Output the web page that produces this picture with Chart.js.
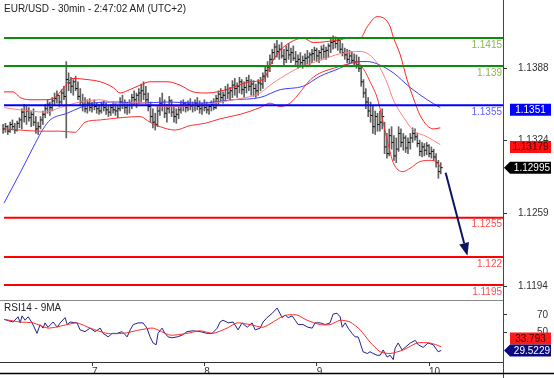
<!DOCTYPE html>
<html>
<head>
<meta charset="utf-8">
<script src="https://cdn.jsdelivr.net/npm/chart.js@4.4.1/dist/chart.umd.min.js"></script>
<style>
  html, body { margin: 0; padding: 0; background: #fff; }
  #wrap { position: relative; width: 554px; height: 378px; overflow: hidden; font-family: "Liberation Sans", Arial, sans-serif; }
  #main { position: absolute; left: 0; top: 0; }
  #rsi { position: absolute; left: 0; top: 300px; }
  .lbl { position: absolute; font-size: 10px; color: #222; white-space: nowrap; }
</style>
</head>
<body>
<div id="wrap">
  <canvas id="main" width="554" height="300"></canvas>
  <canvas id="rsi" width="554" height="78"></canvas>
  <div class="lbl" style="left:4px;top:3px">EUR/USD - 30min - 2:47:02 AM (UTC+2)</div>
  <div class="lbl" style="left:4px;top:302px">RSI14 - 9MA</div>
</div>
<script>
// 30 min bars, index 0 = first bar on screen
const barHigh = [
  1.1338, 1.1339, 1.1337, 1.1340, 1.1342, 1.1339, 1.1341, 1.1344, 1.1352, 1.1356,
  1.1354, 1.1353, 1.1350, 1.1352, 1.1345, 1.1340, 1.1345, 1.1350, 1.1356, 1.1360,
  1.1358, 1.1362, 1.1366, 1.1368, 1.1364, 1.1369, 1.1372, 1.1394, 1.1384, 1.1380,
  1.1378, 1.1381, 1.1376, 1.1370, 1.1365, 1.1362, 1.1360, 1.1361, 1.1358, 1.1360,
  1.1357, 1.1356, 1.1358, 1.1359, 1.1357, 1.1355, 1.1356, 1.1358, 1.1357, 1.1355,
  1.1362, 1.1364, 1.1360, 1.1358, 1.1360, 1.1365, 1.1368, 1.1366, 1.1370, 1.1374,
  1.1376, 1.1372, 1.1366, 1.1358, 1.1352, 1.1348, 1.1355, 1.1362, 1.1366, 1.1360,
  1.1356, 1.1363, 1.1360, 1.1354, 1.1352, 1.1355, 1.1359, 1.1360, 1.1358, 1.1359,
  1.1361, 1.1358, 1.1360, 1.1362, 1.1359, 1.1357, 1.1360, 1.1358, 1.1356, 1.1359,
  1.1361, 1.1364, 1.1368, 1.1370, 1.1367, 1.1372, 1.1374, 1.1371, 1.1377, 1.1379,
  1.1375, 1.1380, 1.1378, 1.1376, 1.1380, 1.1382, 1.1378, 1.1377, 1.1374, 1.1378,
  1.1380, 1.1384, 1.1390, 1.1394, 1.1400, 1.1405, 1.1410, 1.1413, 1.1409, 1.1411,
  1.1405, 1.1408, 1.1410, 1.1406, 1.1408, 1.1403, 1.1400, 1.1402, 1.1399, 1.1401,
  1.1404, 1.1402, 1.1405, 1.1407, 1.1406, 1.1404, 1.1408, 1.1409, 1.1407, 1.1410,
  1.1414, 1.1417, 1.1416, 1.1415, 1.1413, 1.1410, 1.1406, 1.1405, 1.1404, 1.1403,
  1.1401, 1.1400, 1.1398, 1.1390, 1.1378, 1.1370, 1.1362, 1.1358, 1.1355, 1.1350,
  1.1348, 1.1350, 1.1352, 1.1340, 1.1330, 1.1334, 1.1336, 1.1328, 1.1326, 1.1336,
  1.1334, 1.1330, 1.1328, 1.1326, 1.1330, 1.1335, 1.1334, 1.1330, 1.1324, 1.1322,
  1.1321, 1.1322, 1.1320, 1.1318, 1.1316, 1.1312, 1.1306, 1.1304
];
const barLow = [
  1.1330, 1.1331, 1.1329, 1.1331, 1.1333, 1.1330, 1.1332, 1.1335, 1.1334, 1.1340,
  1.1338, 1.1341, 1.1336, 1.1337, 1.1330, 1.1329, 1.1334, 1.1338, 1.1344, 1.1348,
  1.1346, 1.1350, 1.1355, 1.1357, 1.1354, 1.1356, 1.1360, 1.1326, 1.1368, 1.1366,
  1.1364, 1.1368, 1.1360, 1.1355, 1.1350, 1.1349, 1.1348, 1.1350, 1.1349, 1.1351,
  1.1348, 1.1347, 1.1348, 1.1350, 1.1347, 1.1345, 1.1346, 1.1348, 1.1346, 1.1344,
  1.1350, 1.1352, 1.1348, 1.1347, 1.1348, 1.1352, 1.1355, 1.1353, 1.1357, 1.1358,
  1.1360, 1.1356, 1.1350, 1.1340, 1.1335, 1.1333, 1.1336, 1.1346, 1.1350, 1.1344,
  1.1340, 1.1348, 1.1345, 1.1340, 1.1339, 1.1343, 1.1348, 1.1350, 1.1349, 1.1350,
  1.1351, 1.1349, 1.1350, 1.1351, 1.1348, 1.1347, 1.1350, 1.1348, 1.1347, 1.1350,
  1.1351, 1.1352, 1.1356, 1.1358, 1.1357, 1.1359, 1.1361, 1.1360, 1.1362, 1.1364,
  1.1362, 1.1366, 1.1365, 1.1362, 1.1366, 1.1368, 1.1364, 1.1363, 1.1362, 1.1364,
  1.1368, 1.1370, 1.1376, 1.1380, 1.1385, 1.1392, 1.1396, 1.1398, 1.1396, 1.1397,
  1.1390, 1.1393, 1.1396, 1.1393, 1.1395, 1.1390, 1.1388, 1.1389, 1.1388, 1.1390,
  1.1392, 1.1391, 1.1393, 1.1395, 1.1394, 1.1393, 1.1396, 1.1397, 1.1396, 1.1398,
  1.1402, 1.1405, 1.1406, 1.1404, 1.1402, 1.1399, 1.1396, 1.1393, 1.1392, 1.1393,
  1.1390, 1.1388, 1.1385, 1.1372, 1.1362, 1.1352, 1.1345, 1.1340, 1.1330, 1.1329,
  1.1332, 1.1332, 1.1334, 1.1312, 1.1308, 1.1310, 1.1316, 1.1306, 1.1304, 1.1314,
  1.1318, 1.1315, 1.1313, 1.1312, 1.1316, 1.1322, 1.1324, 1.1318, 1.1310, 1.1309,
  1.1310, 1.1311, 1.1309, 1.1308, 1.1306, 1.1300, 1.1290, 1.1294
];
const barClose = [
  1.1334, 1.1336, 1.1332, 1.1338, 1.1336, 1.1333, 1.1339, 1.1342, 1.1349, 1.1345,
  1.1350, 1.1344, 1.1347, 1.1340, 1.1334, 1.1336, 1.1342, 1.1347, 1.1352, 1.1356,
  1.1353, 1.1359, 1.1361, 1.1364, 1.1358, 1.1366, 1.1363, 1.1378, 1.1375, 1.1372,
  1.1376, 1.1370, 1.1363, 1.1358, 1.1356, 1.1352, 1.1357, 1.1353, 1.1355, 1.1354,
  1.1352, 1.1350, 1.1356, 1.1353, 1.1351, 1.1349, 1.1353, 1.1351, 1.1350, 1.1352,
  1.1358, 1.1356, 1.1353, 1.1355, 1.1357, 1.1362, 1.1360, 1.1364, 1.1366, 1.1368,
  1.1365, 1.1360, 1.1354, 1.1345, 1.1340, 1.1338, 1.1350, 1.1357, 1.1354, 1.1348,
  1.1352, 1.1359, 1.1349, 1.1345, 1.1347, 1.1351, 1.1355, 1.1357, 1.1353, 1.1356,
  1.1354, 1.1355, 1.1357, 1.1354, 1.1352, 1.1355, 1.1353, 1.1351, 1.1354, 1.1356,
  1.1353, 1.1361, 1.1365, 1.1362, 1.1364, 1.1369, 1.1366, 1.1368, 1.1373, 1.1370,
  1.1372, 1.1376, 1.1369, 1.1371, 1.1377, 1.1372, 1.1374, 1.1370, 1.1368, 1.1375,
  1.1374, 1.1381, 1.1386, 1.1389, 1.1396, 1.1402, 1.1407, 1.1403, 1.1405, 1.1399,
  1.1396, 1.1404, 1.1400, 1.1402, 1.1397, 1.1394, 1.1396, 1.1393, 1.1395, 1.1397,
  1.1398, 1.1400, 1.1401, 1.1404, 1.1399, 1.1402, 1.1405, 1.1403, 1.1404, 1.1408,
  1.1411, 1.1412, 1.1410, 1.1413, 1.1405, 1.1402, 1.1400, 1.1396, 1.1399, 1.1395,
  1.1393, 1.1391, 1.1388, 1.1376, 1.1366, 1.1358, 1.1350, 1.1346, 1.1336, 1.1345,
  1.1338, 1.1340, 1.1345, 1.1318, 1.1312, 1.1328, 1.1322, 1.1310, 1.1316, 1.1330,
  1.1322, 1.1326, 1.1317, 1.1322, 1.1326, 1.1330, 1.1327, 1.1321, 1.1314, 1.1318,
  1.1315, 1.1319, 1.1312, 1.1314, 1.1309, 1.1304, 1.1296, 1.12995
];

// bollinger bands and moving average, read at points along the chart (x = bar index)
const upperX = [0.4, 4.3, 7.3, 11.5, 17.9, 22.2, 25.6, 29.9, 35.9, 41.5, 47.0, 50.0, 53.0, 58.5, 62.8, 70.1, 75.6, 81.2, 87.2, 91.5, 98.3, 105.6, 111.1, 115.0, 118.4, 122.6, 128.2, 132.5, 142.7, 148.3, 152.6, 155.6, 159.8, 162.4, 165.4, 166.7, 169.7, 172.6, 175.2, 178.2, 181.2, 183.8, 186.8];
const upperVal = [1.1367, 1.1367, 1.1362, 1.1360, 1.1360, 1.1362, 1.1370, 1.1379, 1.1378, 1.1376, 1.1371, 1.1366, 1.1368, 1.1373, 1.1376, 1.1376, 1.1373, 1.1367, 1.1366, 1.1367, 1.1371, 1.1376, 1.1378, 1.1394, 1.1404, 1.1411, 1.1415, 1.1411, 1.1413, 1.1415, 1.1415, 1.1425, 1.1434, 1.1433, 1.1425, 1.1416, 1.1400, 1.1378, 1.1362, 1.1346, 1.1337, 1.1334, 1.1335];
const lowerX = [0.4, 7.3, 15.8, 24.4, 30.8, 32.9, 35.0, 41.5, 50.0, 58.5, 62.8, 67.1, 73.5, 79.9, 86.3, 92.7, 101.3, 109.8, 114.1, 118.4, 122.6, 132.5, 142.7, 151.3, 154.7, 156.8, 159.8, 162.4, 164.5, 166.7, 170.9, 173.9, 178.2, 182.5, 185.5, 186.8];
const lowerVal = [1.1334, 1.1333, 1.1332, 1.1332, 1.1331, 1.1335, 1.1340, 1.1342, 1.1344, 1.1345, 1.1340, 1.1336, 1.1333, 1.1337, 1.1339, 1.1343, 1.1347, 1.1353, 1.1357, 1.1354, 1.1357, 1.1380, 1.1389, 1.1393, 1.1385, 1.1376, 1.1362, 1.1340, 1.1321, 1.1304, 1.1296, 1.1299, 1.1305, 1.1306, 1.1304, 1.1300];
const midX = [0.4, 7.3, 17.9, 24.4, 32.9, 41.5, 50.0, 58.5, 67.1, 75.6, 84.2, 92.7, 101.3, 109.8, 114.1, 118.4, 126.9, 135.5, 144.0, 152.6, 159.0, 164.1, 166.7, 170.9, 175.2, 181.2, 186.8];
const midVal = [1.1353, 1.1351, 1.1349, 1.1353, 1.1358, 1.1360, 1.1356, 1.1358, 1.1354, 1.1354, 1.1355, 1.1358, 1.1361, 1.1366, 1.1373, 1.1379, 1.1389, 1.1395, 1.1401, 1.1403, 1.1395, 1.1375, 1.1360, 1.1345, 1.1333, 1.1327, 1.1320];
const smaX = [0.4, 7.3, 13.7, 17.1, 20.1, 27.4, 32.9, 38.5, 48.7, 58.5, 70.1, 84.2, 98.3, 109.8, 118.4, 128.2, 135.5, 142.7, 151.3, 155.6, 159.8, 166.7, 173.9, 181.2, 186.8];
const smaVal = [1.1268, 1.1295, 1.1321, 1.1334, 1.1342, 1.1348, 1.1353, 1.1357, 1.1358, 1.1357, 1.1358, 1.1357, 1.1360, 1.1362, 1.1369, 1.1372, 1.1381, 1.1387, 1.1394, 1.1394, 1.1392, 1.1384, 1.1371, 1.1360, 1.1353];

// RSI(14) and its 9 period average
const rsiX = [0.4, 4.3, 6.4, 7.3, 8.1, 9.4, 10.7, 12.4, 14.5, 15.8, 17.1, 17.9, 19.2, 21.4, 23.1, 24.4, 26.5, 27.4, 28.6, 31.6, 32.9, 35.0, 37.2, 39.3, 41.5, 42.7, 44.9, 46.6, 48.7, 50.9, 53.0, 54.3, 55.6, 57.7, 59.8, 61.5, 62.8, 64.1, 65.4, 66.2, 67.9, 69.2, 70.5, 72.2, 74.4, 76.5, 78.6, 81.2, 84.2, 87.2, 89.3, 91.5, 92.7, 94.0, 96.2, 98.3, 100.4, 102.1, 104.3, 106.4, 107.7, 109.8, 111.1, 112.8, 115.0, 117.1, 119.2, 120.5, 121.8, 123.5, 124.8, 126.1, 128.2, 130.3, 132.1, 133.3, 135.5, 137.6, 139.7, 141.0, 142.7, 144.0, 144.9, 146.2, 147.4, 149.1, 150.4, 151.7, 152.6, 153.8, 155.6, 156.8, 158.1, 159.8, 161.1, 162.4, 164.1, 165.4, 166.7, 167.5, 168.8, 170.5, 171.8, 174.0, 176.1, 177.4, 179.5, 181.6, 183.8, 185.9, 187.2];
const rsiVal = [65, 62, 68, 61, 69, 64, 68, 61, 49, 59, 55, 61, 56, 62, 56, 61, 67, 59, 62, 61, 53, 51, 55, 51, 55, 49, 45, 49, 49, 51, 45, 53, 59, 61, 61, 55, 45, 38, 36, 49, 55, 49, 45, 44, 45, 47, 51, 52, 51, 49, 49, 55, 62, 64, 61, 62, 53, 61, 56, 61, 53, 55, 62, 67, 72, 78, 67, 70, 67, 69, 64, 59, 59, 56, 55, 61, 61, 59, 61, 71, 72, 68, 56, 61, 55, 49, 45, 45, 38, 28, 26, 28, 26, 24, 24, 30, 22, 24, 19, 32, 38, 30, 33, 38, 41, 36, 33, 38, 36, 28, 29.52];
const rsiMaX = [0.4, 7.3, 12.8, 19.2, 27.4, 31.6, 37.2, 44.4, 51.3, 58.5, 64.1, 71.4, 78.6, 84.2, 89.7, 95.7, 100.0, 105.6, 111.1, 115.4, 118.4, 121.4, 125.6, 129.9, 135.5, 139.7, 144.0, 148.3, 152.6, 156.8, 161.1, 165.4, 170.9, 176.9, 182.5, 187.2];
const rsiMaVal = [65, 62, 61, 55, 59, 61, 55, 49, 49, 53, 55, 47, 49, 52, 49, 55, 61, 59, 56, 62, 67, 70, 70, 64, 59, 59, 64, 62, 53, 39, 28, 26, 30, 38, 38, 33.8];

const levelValues = [1.1415, 1.139, 1.1355, 1.1255, 1.122, 1.1195];
const levelLabels = ['1.1415', '1.139', '1.1355', '1.1255', '1.122', '1.1195'];
const priceTicks = [1.1388, 1.1324, 1.1259, 1.1194];
const rsiTicks = [70, 50];
const dayTicks = [38, 86, 134, 182];
const dayLabels = ['7', '8', '9', '10'];
const priceBadgeVals = [1.1351, 1.13179, 1.12995];
const priceBadgeLabels = ['1.1351', '1.13179', '1.12995'];
const rsiBadgeVals = [33.793, 29.5229];
const rsiBadgeLabels = ['33.793', '29.5229'];
const arrowFrom = [189.1, 1.1295];
const arrowTo = [198.4, 1.1221];

const X_MIN = -1.32, X_MAX = 213.6;
const P_MIN = 1.118163, P_MAX = 1.144885;
const R_MIN = 16.29, R_MAX = 87.14;
const FONT = '10px "Liberation Sans", Arial, sans-serif';
const levelColors = ['#0e8c0e', '#0e8c0e', '#0000ff', '#ff0000', '#ff0000', '#ff0000'];
const levelTextColors = ['#8cb84a', '#8cb84a', '#6262ff', '#ff4d4d', '#ff4d4d', '#ff4d4d'];

Chart.defaults.font.family = '"Liberation Sans", Arial, sans-serif';
Chart.defaults.font.size = 10;
Chart.defaults.color = '#333';

const pts = (xs, ys) => xs.map((x, i) => ({ x: x, y: ys[i] }));

// edge ticks without a label keep the axis from padding the plot area
const edgeTicks = (min, max, list) => [min, ...list, max].map(v => ({ value: v }));
const tickColor = c => (c.tick && c.tick.label == null ? 'rgba(0,0,0,0)' : '#333');

function drawBadge(ctx, yc, text, bg, fg, pointer) {
  const h = 12, x0 = 510, x1 = 551;
  ctx.fillStyle = bg;
  ctx.beginPath();
  if (pointer) {
    ctx.moveTo(504, yc);
    ctx.lineTo(x0, yc - h / 2);
  } else {
    ctx.moveTo(x0, yc - h / 2);
  }
  ctx.lineTo(x1, yc - h / 2);
  ctx.lineTo(x1, yc + h / 2);
  ctx.lineTo(x0, yc + h / 2);
  ctx.closePath();
  ctx.fill();
  ctx.fillStyle = fg;
  ctx.font = FONT;
  ctx.textBaseline = 'middle';
  if (pointer) {
    ctx.textAlign = 'right';
    ctx.fillText(text, x1 - 1, yc + 0.5);
  } else {
    ctx.textAlign = 'center';
    ctx.fillText(text, (x0 + x1) / 2, yc + 0.5);
  }
}

const mainOverlay = {
  id: 'mainOverlay',
  afterDatasetsDraw(chart) {
    const { ctx, chartArea, scales: { x, y } } = chart;
    ctx.save();
    ctx.font = FONT;
    ctx.textAlign = 'right';
    ctx.textBaseline = 'middle';
    levelValues.forEach((v, k) => {
      ctx.fillStyle = levelTextColors[k];
      ctx.fillText(levelLabels[k], chartArea.right - 1, y.getPixelForValue(v) + 7);
    });

    // target arrow
    const x1 = x.getPixelForValue(arrowFrom[0]), y1 = y.getPixelForValue(arrowFrom[1]);
    const x2 = x.getPixelForValue(arrowTo[0]), y2 = y.getPixelForValue(arrowTo[1]);
    const ang = Math.atan2(y2 - y1, x2 - x1);
    const headLen = 13, headW = 5;
    const bx = x2 - headLen * Math.cos(ang), by = y2 - headLen * Math.sin(ang);
    ctx.strokeStyle = '#0c1660';
    ctx.fillStyle = '#0c1660';
    ctx.lineWidth = 2;
    ctx.beginPath();
    ctx.moveTo(x1, y1);
    ctx.lineTo(bx, by);
    ctx.stroke();
    ctx.beginPath();
    ctx.moveTo(x2, y2);
    ctx.lineTo(bx + headW * Math.sin(ang), by - headW * Math.cos(ang));
    ctx.lineTo(bx - headW * Math.sin(ang), by + headW * Math.cos(ang));
    ctx.closePath();
    ctx.fill();
    ctx.restore();
  },
  afterDraw(chart) {
    const { ctx, scales: { y } } = chart;
    ctx.save();
    drawBadge(ctx, y.getPixelForValue(priceBadgeVals[0]), priceBadgeLabels[0], '#0000ff', '#ffffff', false);
    drawBadge(ctx, y.getPixelForValue(priceBadgeVals[1]), priceBadgeLabels[1], '#ff1010', '#3a0000', false);
    drawBadge(ctx, y.getPixelForValue(priceBadgeVals[2]), priceBadgeLabels[2], '#000000', '#ffffff', true);
    ctx.restore();
  }
};

const rsiOverlay = {
  id: 'rsiOverlay',
  afterDraw(chart) {
    const { ctx, chartArea, scales: { y } } = chart;
    ctx.save();
    ctx.lineWidth = 1;
    ctx.strokeStyle = '#8a8a8a';
    ctx.beginPath();
    ctx.moveTo(0, 0.5);
    ctx.lineTo(chartArea.right, 0.5);
    ctx.stroke();
    ctx.strokeStyle = '#444';
    ctx.beginPath();
    ctx.moveTo(chartArea.right + 0.5, chartArea.bottom);
    ctx.lineTo(chartArea.right + 0.5, chart.height);
    ctx.stroke();
    ctx.strokeStyle = '#000';
    ctx.lineWidth = 1.5;
    ctx.beginPath();
    ctx.moveTo(0, 73.5);
    ctx.lineTo(chart.width, 73.5);
    ctx.stroke();

    const yNavy = y.getPixelForValue(rsiBadgeVals[1]);
    const yRed = Math.min(y.getPixelForValue(rsiBadgeVals[0]), yNavy - 12);
    drawBadge(ctx, yRed, rsiBadgeLabels[0], '#ff1a1a', '#3a0000', false);
    drawBadge(ctx, yNavy, rsiBadgeLabels[1], '#0a0a80', '#ffffff', true);
    ctx.restore();
  }
};

const levelSets = levelValues.map((v, k) => ({
  type: 'line',
  data: [{ x: 0.4, y: v }, { x: X_MAX, y: v }],
  borderColor: levelColors[k],
  borderWidth: 2,
  pointRadius: 0,
  order: 0
}));

const bandLine = (xs, ys, color) => ({
  type: 'line',
  data: pts(xs, ys),
  borderColor: color,
  borderWidth: 1,
  pointRadius: 0,
  cubicInterpolationMode: 'monotone',
  order: 2
});

new Chart(document.getElementById('main'), {
  type: 'bar',
  data: {
    datasets: [
      ...levelSets,
      bandLine(upperX, upperVal, '#ff2020'),
      bandLine(lowerX, lowerVal, '#ff3030'),
      bandLine(midX, midVal, '#ff8080'),
      bandLine(smaX, smaVal, '#3d3dff'),
      {
        type: 'line',
        data: barClose.map((c, i) => ({ x: i, y: c })),
        showLine: false,
        pointStyle: 'dash',
        pointRadius: 2,
        borderColor: '#000',
        borderWidth: 1,
        order: 3
      },
      {
        type: 'bar',
        data: barHigh.map((h, i) => ({ x: i, y: [barLow[i], h] })),
        backgroundColor: '#606060',
        borderWidth: 0,
        barThickness: 1,
        grouped: false,
        order: 4
      }
    ]
  },
  options: {
    responsive: false,
    animation: false,
    events: [],
    layout: { padding: 0, autoPadding: false },
    plugins: { legend: { display: false }, tooltip: { enabled: false } },
    scales: {
      x: { type: 'linear', min: X_MIN, max: X_MAX, offset: false, display: false },
      y: {
        type: 'linear',
        position: 'right',
        min: P_MIN,
        max: P_MAX,
        afterBuildTicks: s => { s.ticks = edgeTicks(P_MIN, P_MAX, priceTicks); },
        afterFit: s => { s.width = 51; s.paddingTop = 0; s.paddingBottom = 0; },
        ticks: {
          padding: 11,
          color: '#333',
          callback: v => (priceTicks.includes(v) ? v.toFixed(4) : null)
        },
        grid: { drawOnChartArea: false, tickLength: 4, color: tickColor },
        border: { color: '#444' }
      }
    }
  },
  plugins: [mainOverlay]
});

new Chart(document.getElementById('rsi'), {
  type: 'line',
  data: {
    datasets: [
      {
        data: pts(rsiMaX, rsiMaVal),
        borderColor: '#ff2a2a',
        borderWidth: 1,
        pointRadius: 0,
        tension: 0.2
      },
      {
        data: pts(rsiX, rsiVal),
        borderColor: '#22228a',
        borderWidth: 1,
        pointRadius: 0
      }
    ]
  },
  options: {
    responsive: false,
    animation: false,
    events: [],
    layout: { padding: { bottom: 5 }, autoPadding: false },
    plugins: { legend: { display: false }, tooltip: { enabled: false } },
    scales: {
      x: {
        type: 'linear',
        min: X_MIN,
        max: X_MAX,
        afterBuildTicks: s => { s.ticks = dayTicks.map(v => ({ value: v })); },
        afterFit: s => { s.height = 11; s.paddingLeft = 0; s.paddingRight = 0; },
        ticks: {
          align: 'start',
          padding: 0,
          maxRotation: 0,
          autoSkip: false,
          color: '#333',
          callback: v => dayLabels[dayTicks.indexOf(v)]
        },
        grid: { drawOnChartArea: false, tickLength: 4, color: '#333' },
        border: { color: '#333' }
      },
      y: {
        type: 'linear',
        position: 'right',
        min: R_MIN,
        max: R_MAX,
        afterBuildTicks: s => { s.ticks = edgeTicks(R_MIN, R_MAX, rsiTicks); },
        afterFit: s => { s.width = 51; s.paddingTop = 0; s.paddingBottom = 0; },
        ticks: {
          padding: 30,
          color: '#333',
          callback: v => (rsiTicks.includes(v) ? String(v) : null)
        },
        grid: { drawOnChartArea: false, tickLength: 4, color: tickColor },
        border: { color: '#444' }
      }
    }
  },
  plugins: [rsiOverlay]
});
</script>
</body>
</html>
